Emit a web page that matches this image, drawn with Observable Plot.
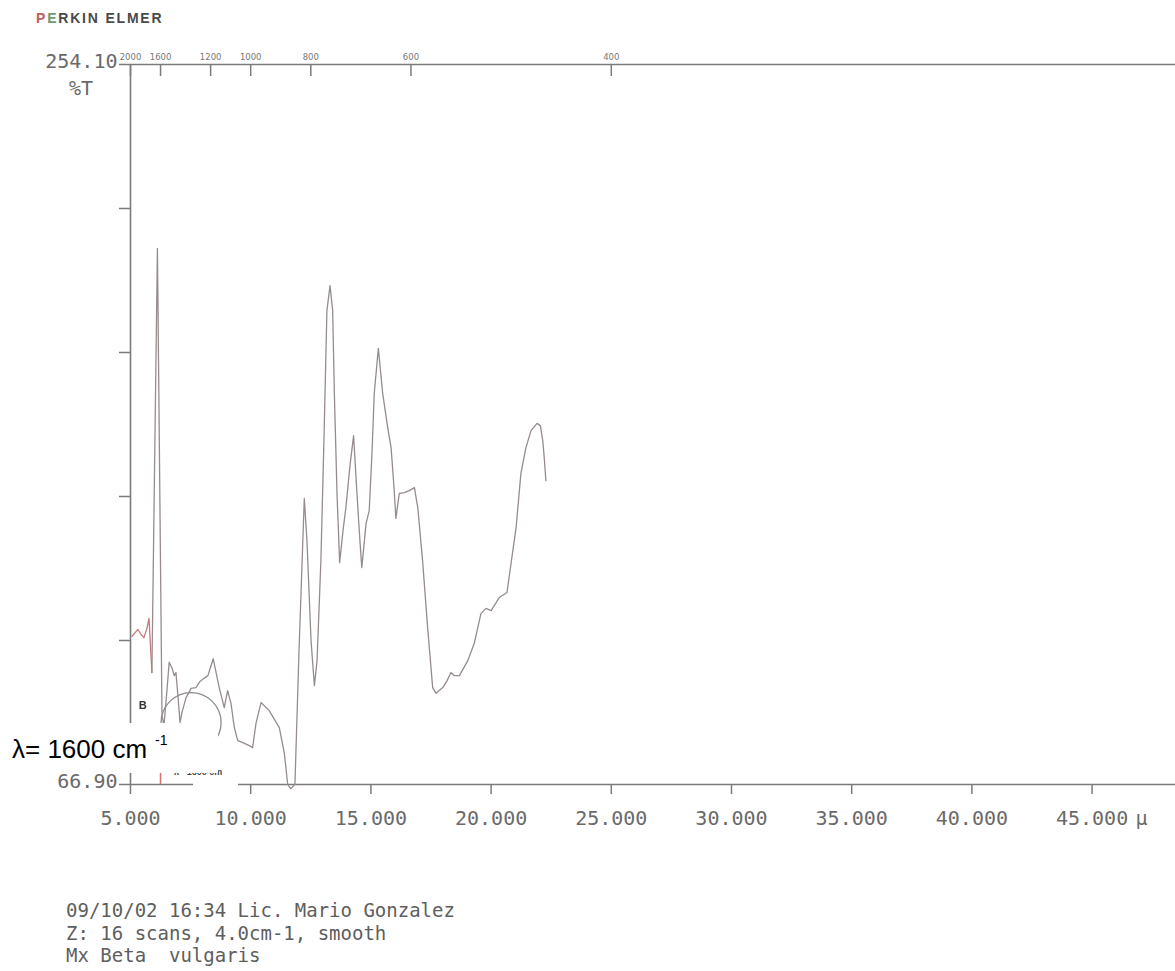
<!DOCTYPE html>
<html>
<head>
<meta charset="utf-8">
<script src="https://cdn.jsdelivr.net/npm/d3@7"></script>
<script src="https://cdn.jsdelivr.net/npm/@observablehq/plot@0.6"></script>
<style>
  html, body { margin: 0; padding: 0; background: #fff; }
  body { width: 1175px; height: 971px; position: relative; overflow: hidden; }
  #chart { position: absolute; left: 0; top: 0; }
  #brand { position: absolute; left: 36px; top: 11px; font: bold 14px "Liberation Sans", Arial, sans-serif; color: #4a4a4a; line-height: 14px; letter-spacing: 1.8px; white-space: nowrap; }
  #brand b.p { color: #c0605a; }
  #brand b.e { color: #6f9a70; }
  #unit { position: absolute; left: 69px; top: 78px; font: 20px "DejaVu Sans Mono", monospace; color: #6a6a6a; line-height: 20px; }
  #caption { position: absolute; left: 66px; top: 899px; font: 19px "DejaVu Sans Mono", monospace; color: #5e5e5e; line-height: 22.5px; white-space: pre; }
  #tiny { position: absolute; left: 174px; top: 766px; font: bold 9px "Liberation Sans", Arial, sans-serif; color: #444; line-height: 12px; white-space: nowrap; }
  #axisgap { position: absolute; left: 193px; top: 779px; width: 45px; height: 9px; background: #fff; }
  #lambda { position: absolute; left: 0; top: 723px; width: 218px; height: 50px; background: #fff; }
  #lambda .main { position: absolute; left: 12px; top: 13px; font: 26px "Liberation Sans", Arial, sans-serif; line-height: 26px; color: #000; white-space: nowrap; }
  #lambda .sup { position: absolute; left: 155px; top: 10px; font: 14px "Liberation Sans", Arial, sans-serif; line-height: 14px; color: #000; }
</style>
</head>
<body>
<div id="chart"></div>
<div id="brand"><b class="p">P</b><b class="e">E</b>RKIN ELMER</div>
<div id="unit">%T</div>
<div id="tiny">λ= 1600 cm</div>
<div id="axisgap"></div>
<div id="lambda"><span class="main">λ= 1600 cm</span><span class="sup">-1</span></div>
<div id="caption"></div>
<script>
// Infrared spectrum: wavelength (µm) against transmittance (%T)
const wavelengthUm = [
  5.06, 5.19, 5.31, 5.44, 5.56, 5.69, 5.77, 5.89, 6.12, 6.31,
  6.39, 6.48, 6.61, 6.73, 6.82, 6.89, 6.98, 7.06, 7.14, 7.31,
  7.52, 7.72, 7.89, 8.06, 8.22, 8.44, 8.56, 8.69, 8.90, 9.04,
  9.18, 9.32, 9.46, 9.67, 9.94, 10.08, 10.22, 10.43, 10.77, 11.19,
  11.40, 11.54, 11.66, 11.84, 12.01, 12.23, 12.34, 12.51, 12.65, 12.76,
  12.92, 13.06, 13.17, 13.30, 13.41, 13.48, 13.59, 13.70, 13.84, 13.96,
  14.13, 14.28, 14.42, 14.53, 14.62, 14.80, 14.93, 15.05, 15.14, 15.31,
  15.49, 15.70, 15.84, 15.97, 16.04, 16.18, 16.39, 16.60, 16.81, 16.95,
  17.15, 17.36, 17.57, 17.71, 17.99, 18.17, 18.33, 18.47, 18.68, 19.03,
  19.30, 19.58, 19.79, 20.00, 20.34, 20.66, 20.83, 21.04, 21.24, 21.45,
  21.66, 21.91, 22.05, 22.15, 22.21, 22.28
];
const transmittancePct = [
  105.4, 106.4, 107.2, 105.9, 105.1, 107.7, 110.1, 96.0, 206.3, 84.8,
  82.2, 88.7, 98.7, 97.1, 95.2, 96.0, 89.5, 83.0, 85.6, 89.5,
  91.9, 92.1, 93.7, 94.5, 95.2, 99.6, 96.0, 92.1, 86.9, 91.3,
  88.0, 81.7, 78.3, 77.8, 77.0, 76.5, 82.8, 88.2, 86.1, 81.7,
  75.0, 66.9, 65.8, 66.9, 101.7, 141.3, 130.3, 104.3, 92.6, 99.1,
  125.1, 159.7, 190.1, 196.6, 190.1, 168.6, 142.6, 124.6, 132.9, 138.9,
  149.8, 157.6, 142.6, 131.6, 123.3, 134.8, 138.1, 153.7, 168.6, 180.3,
  168.6, 159.7, 154.5, 143.3, 136.1, 142.6, 142.8, 143.3, 144.1, 138.9,
  125.1, 107.7, 92.1, 90.6, 92.1, 93.9, 96.0, 95.2, 95.2, 99.1,
  103.6, 111.4, 112.7, 112.1, 115.5, 116.8, 124.4, 133.7, 147.8, 154.5,
  158.9, 160.8, 160.2, 156.3, 151.9, 145.9
];

// the first few readings (before the 1600 cm-1 band) are traced in red
const redSegmentEnd = 8;

// axes
const yMin = 66.90, yMax = 254.10, yDivisions = 5;
const xMin = 5, xMax = 48.47;
const wavelengthTicks = [5, 10, 15, 20, 25, 30, 35, 40, 45];
const wavenumberTicks = [2000, 1600, 1200, 1000, 800, 600, 400]; // cm-1

// annotations
const markerWavenumber = 1600;           // red marker at the bottom
const markerTop = 73.1;                  // %T
const circleMark = [{um: 7.52, pct: 83.0}];
const bandLabel = [{um: 5.51, pct: 87.4, text: "B"}];

const captionLines = [
  "09/10/02 16:34 Lic. Mario Gonzalez",
  "Z: 16 scans, 4.0cm-1, smooth",
  "Mx Beta  vulgaris"
];

const spectrum = wavelengthUm.map((um, i) => ({um, pct: transmittancePct[i]}));
const redPart = spectrum.slice(0, redSegmentEnd);
const grayPart = spectrum.slice(redSegmentEnd - 1);
const yTicks = d3.range(yDivisions + 1).map(i => yMin + i * (yMax - yMin) / yDivisions);
const topTickUm = wavenumberTicks.map(w => 1e4 / w);

const axisColor = "#7b7b7b";

const chart = Plot.plot({
  width: 1175,
  height: 860,
  marginTop: 64,
  marginBottom: 76,
  marginLeft: 130,
  marginRight: 0,
  style: {fontFamily: "'DejaVu Sans Mono', monospace", color: "#6a6a6a", background: "transparent", overflow: "visible"},
  x: {domain: [xMin, xMax]},
  y: {domain: [yMin, yMax]},
  marks: [
    Plot.ruleY([yMin, yMax], {stroke: axisColor, strokeWidth: 1.6}),
    Plot.ruleX([xMin], {stroke: axisColor, strokeWidth: 1.6}),
    Plot.axisY({ticks: yTicks, tickSize: 11, tickFormat: () => "", stroke: axisColor, strokeWidth: 1.5, label: null}),
    Plot.axisY({ticks: [yMin, yMax], tickSize: 0, tickPadding: 13, tickFormat: d3.format(".2f"), fontSize: 20, dy: -3, label: null}),
    Plot.axisX({ticks: wavelengthTicks, tickSize: 10, tickPadding: 16, tickFormat: d3.format(".3f"), fontSize: 20, stroke: axisColor, strokeWidth: 1.5, label: null}),
    Plot.axisX({anchor: "top", ticks: topTickUm, tickSize: 11, dy: 11, tickFormat: () => "", stroke: axisColor, strokeWidth: 1.5, label: null}),
    Plot.axisX({anchor: "top", ticks: topTickUm, tickSize: 0, tickPadding: 5, tickFormat: d => String(Math.round(1e4 / d)), fontSize: 8.5, fontFamily: "DejaVu Sans", fill: "#777", label: null}),
    Plot.text(["µ"], {frameAnchor: "bottom-right", dx: -28, dy: 26, lineAnchor: "top", fontSize: 20, fill: "#6a6a6a"}),
    Plot.ruleX([1e4 / markerWavenumber], {y1: yMin, y2: markerTop, stroke: "#d27474", strokeWidth: 1.6}),
    Plot.dot(circleMark, {x: "um", y: "pct", r: 30, stroke: "#8d8d8d", strokeWidth: 1.3, fill: "none"}),
    Plot.line(grayPart, {x: "um", y: "pct", stroke: "#978c8c", strokeWidth: 1.3}),
    Plot.line(redPart, {x: "um", y: "pct", stroke: "#c47a7a", strokeWidth: 1.3}),
    Plot.text(bandLabel, {x: "um", y: "pct", text: "text", fontSize: 11, fontWeight: "bold", fontFamily: "Liberation Sans, sans-serif", fill: "#333"})
  ]
});

document.getElementById("chart").append(chart);
document.getElementById("caption").textContent = captionLines.join("\n");
</script>
</body>
</html>
